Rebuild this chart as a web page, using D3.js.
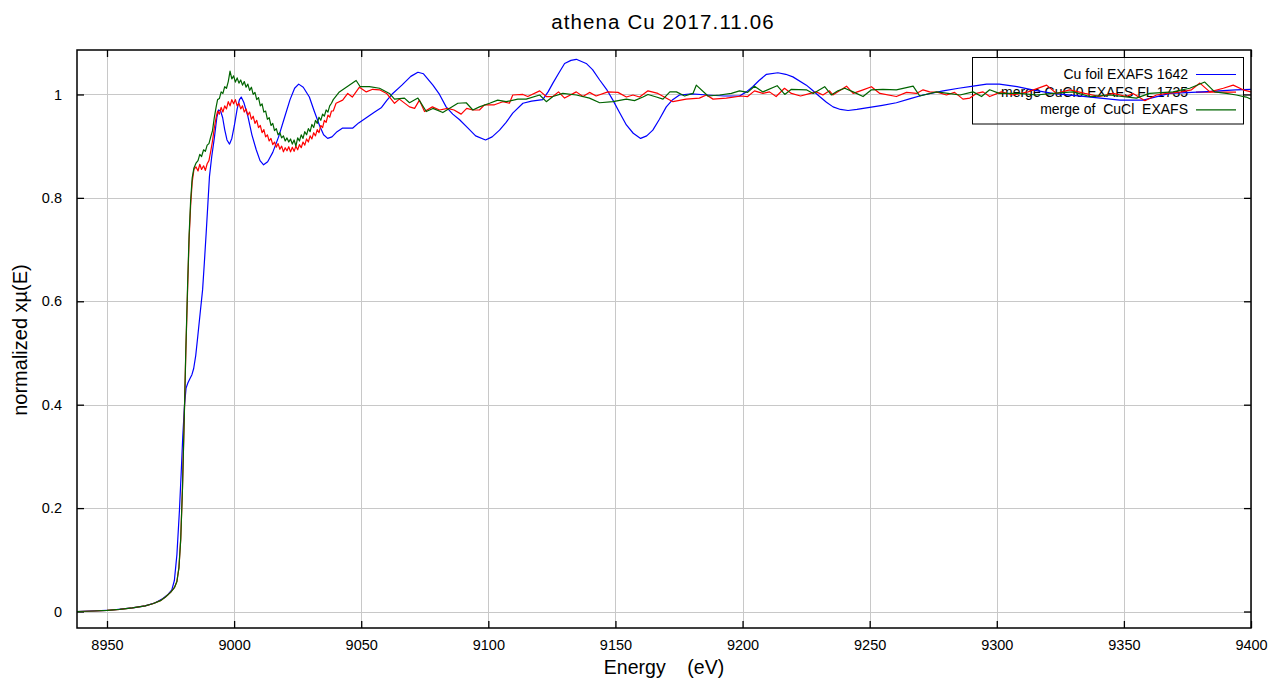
<!DOCTYPE html>
<html>
<head>
<meta charset="utf-8">
<script src="https://cdn.jsdelivr.net/npm/d3@7"></script>
<style>
  body { margin: 0; background: #fff; }
  text { font-family: Arial, "Liberation Sans", sans-serif; }
</style>
</head>
<body>
<script>
// 画布尺寸
const width = 1271;
const height = 679;
const margin = { top: 50, right: 20, bottom: 51, left: 77 };

const titleText = 'athena Cu 2017.11.06';
const xLabel = 'Energy    (eV)';
const yLabel = 'normalized xµ(E)';
const seriesNames = ['Cu foil EXAFS 1642', 'merge CuCl0 EXAFS FL 1735', 'merge of  CuCl  EXAFS'];
const seriesColors = ['#0000ff', '#ff0000', '#006400'];
const xTicks = [8950, 9000, 9050, 9100, 9150, 9200, 9250, 9300, 9350, 9400];
const yTicks = [0, 0.2, 0.4, 0.6, 0.8, 1];

// Cu foil EXAFS 1642  [能量, 归一化吸收]
const cuFoil = [
  [8938, 0.000], [8950, 0.002], [8960, 0.007], [8965, 0.011], [8969, 0.017], [8972, 0.025],
  [8974, 0.033], [8975.5, 0.042], [8976.5, 0.060], [8977.5, 0.110], [8978.5, 0.196], [8979.2, 0.270],
  [8979.8, 0.338], [8980.5, 0.400], [8981.1, 0.432], [8981.8, 0.442], [8982.6, 0.450], [8983.4, 0.458],
  [8984.1, 0.470], [8984.9, 0.495], [8985.7, 0.532], [8986.6, 0.575], [8987.6, 0.622], [8988.3, 0.675],
  [8989, 0.731], [8989.7, 0.790], [8990.3, 0.841], [8991.2, 0.880], [8992.2, 0.915], [8993.2, 0.955],
  [8993.9, 0.970], [8994.7, 0.968], [8995.5, 0.955], [8996.3, 0.932], [8997.2, 0.912], [8998.2, 0.904],
  [8999.1, 0.915], [9000.1, 0.940], [9001.2, 0.972], [9002.1, 0.990], [9002.8, 0.995], [9003.8, 0.985],
  [9005.4, 0.958], [9007, 0.922], [9008.7, 0.893], [9010.2, 0.872], [9011.6, 0.864], [9013.2, 0.870],
  [9015.2, 0.888], [9017.5, 0.918], [9019.8, 0.955], [9022, 0.990], [9023.8, 1.012], [9025.4, 1.020],
  [9027.2, 1.014], [9029.6, 0.995], [9031.5, 0.968], [9033.6, 0.940], [9035.2, 0.922], [9036.8, 0.915],
  [9038.5, 0.918], [9040.5, 0.928], [9042.7, 0.935], [9046.7, 0.935], [9049, 0.945], [9052, 0.955],
  [9055, 0.965], [9058, 0.975], [9060, 0.988], [9062.4, 1.002], [9066, 1.018], [9069.5, 1.035],
  [9072.3, 1.043], [9074.5, 1.040], [9078.2, 1.018], [9080.8, 1.000], [9083.4, 0.976], [9086, 0.962],
  [9088.7, 0.951], [9092, 0.935], [9095, 0.920], [9098.9, 0.912], [9101.5, 0.918], [9104.4, 0.931],
  [9107, 0.946], [9109.6, 0.964], [9113.6, 0.983], [9117, 0.987], [9121.4, 0.990], [9123.5, 1.005],
  [9125.4, 1.022], [9127.8, 1.042], [9130, 1.060], [9132.5, 1.066], [9134.6, 1.068], [9138.5, 1.060],
  [9141, 1.048], [9143.8, 1.028], [9146.5, 1.010], [9149, 0.989], [9151.5, 0.966], [9154.3, 0.941],
  [9157, 0.925], [9159.9, 0.915], [9162.3, 0.920], [9164.7, 0.931], [9167.3, 0.952], [9170, 0.976],
  [9172.5, 0.990], [9175.2, 0.999], [9180, 1.001], [9186, 0.999], [9193, 0.997], [9198.8, 0.997],
  [9201.5, 1.005], [9204, 1.015], [9206.5, 1.027], [9209.4, 1.039], [9213.9, 1.042], [9217, 1.039],
  [9219.8, 1.034], [9225.1, 1.018], [9227.5, 1.008], [9230.3, 0.996], [9233, 0.985], [9235.6, 0.976],
  [9238.5, 0.971], [9241.5, 0.969], [9245, 0.971], [9250, 0.975], [9255, 0.979], [9260.5, 0.984],
  [9266, 0.992], [9271, 0.999], [9278.9, 1.007], [9285, 1.012], [9290.7, 1.016], [9296, 1.020],
  [9301, 1.020], [9308, 1.015], [9315, 1.008], [9322, 1.002], [9335, 0.996], [9348.4, 0.989],
  [9357.6, 0.989], [9368, 1.002], [9381, 1.005], [9394, 1.009], [9400, 1.010]
];

// merge CuCl0 EXAFS FL 1735
const cuclFL = [
  [8938, 0.000], [8945, 0.001], [8950, 0.002], [8955, 0.004], [8960, 0.007], [8965, 0.011],
  [8968, 0.015], [8971, 0.021], [8973, 0.028], [8975, 0.037], [8976.5, 0.046], [8977.5, 0.058],
  [8978.3, 0.085], [8979, 0.140], [8979.7, 0.240], [8980.4, 0.377], [8981, 0.500], [8981.7, 0.622],
  [8982.3, 0.720], [8982.9, 0.785], [8983.5, 0.830], [8984.2, 0.855], [8985, 0.860], [8985.8, 0.852],
  [8986.5, 0.865], [8987.2, 0.855], [8988, 0.862], [8988.7, 0.853], [8989.4, 0.866], [8990.1, 0.872],
  [8990.8, 0.890], [8991.5, 0.910], [8992.2, 0.935], [8992.9, 0.955], [8993.5, 0.968], [8994.2, 0.962],
  [8994.9, 0.975], [8995.6, 0.966], [8996.3, 0.978], [8997, 0.972], [8997.7, 0.986], [8998.4, 0.978],
  [8999.1, 0.990], [8999.8, 0.982], [9000.5, 0.990], [9001.2, 0.978], [9001.9, 0.983], [9002.6, 0.972],
  [9003.3, 0.978], [9004, 0.966], [9004.7, 0.972], [9005.4, 0.960], [9006.1, 0.966], [9006.8, 0.952],
  [9007.5, 0.958], [9008.2, 0.944], [9008.9, 0.950], [9009.6, 0.936], [9010.3, 0.940], [9011, 0.926],
  [9011.7, 0.932], [9012.4, 0.918], [9013.1, 0.922], [9013.8, 0.910], [9014.5, 0.915], [9015.2, 0.903],
  [9015.9, 0.908], [9016.6, 0.898], [9017.3, 0.905], [9018, 0.894], [9018.7, 0.900], [9019.4, 0.889],
  [9020.1, 0.897], [9020.8, 0.891], [9021.5, 0.899], [9022.2, 0.889], [9022.9, 0.898], [9023.6, 0.890],
  [9024.3, 0.900], [9025, 0.893], [9025.7, 0.903], [9026.4, 0.897], [9027.1, 0.908], [9027.8, 0.902],
  [9028.5, 0.914], [9029.2, 0.908], [9029.9, 0.920], [9030.6, 0.914], [9031.3, 0.926], [9032, 0.920],
  [9032.7, 0.932], [9033.4, 0.926], [9034.1, 0.940], [9034.8, 0.936], [9035.5, 0.950], [9036.2, 0.946],
  [9036.9, 0.960], [9037.6, 0.956], [9038.3, 0.968], [9039, 0.968], [9040.1, 0.983], [9042.7, 0.989],
  [9044.7, 1.002], [9046.5, 0.995], [9049.3, 1.014], [9052, 1.005], [9054.5, 1.010], [9057.2, 1.009],
  [9060, 1.002], [9063.1, 0.983], [9065, 0.991], [9069, 0.976], [9071, 0.973], [9072.9, 0.989],
  [9074.9, 0.967], [9078, 0.976], [9080.8, 0.970], [9084, 0.973], [9086.5, 0.970], [9089.3, 0.962],
  [9091.5, 0.973], [9093.9, 0.970], [9096.5, 0.970], [9098.5, 0.980], [9102.4, 0.980], [9105.7, 0.986],
  [9108.3, 0.983], [9109.6, 0.999], [9113.6, 1.000], [9115.5, 0.996], [9120.2, 1.007], [9122.8, 0.996],
  [9125.4, 0.996], [9127.6, 1.005], [9130, 0.993], [9134.6, 1.005], [9137.2, 0.996], [9139.8, 1.004],
  [9142.4, 0.997], [9147, 1.005], [9151, 1.004], [9154.3, 0.995], [9156.9, 0.999], [9159.5, 0.995],
  [9162.8, 1.007], [9166.7, 1.002], [9172.6, 0.986], [9177.8, 0.991], [9183, 0.993], [9185.8, 0.999],
  [9188.4, 0.991], [9193.6, 0.993], [9199.5, 0.997], [9202, 0.996], [9204.7, 1.007], [9208, 1.002],
  [9210.6, 1.005], [9213.2, 0.996], [9216.5, 1.012], [9219.2, 1.002], [9222.8, 0.997], [9226.7, 1.002],
  [9229, 1.005], [9231.6, 0.999], [9234.2, 1.007], [9235.5, 0.999], [9240.9, 1.016], [9243.5, 1.002],
  [9247.4, 1.009], [9250.7, 1.015], [9254, 1.002], [9260.5, 0.996], [9264.5, 1.004], [9268.4, 1.002],
  [9271, 1.009], [9273.6, 1.005], [9276.9, 1.004], [9280.2, 0.999], [9283.4, 1.004], [9286.7, 0.991],
  [9289.4, 0.993], [9292, 1.002], [9294.6, 1.005], [9297.2, 0.996], [9301.8, 1.005], [9306.4, 0.999],
  [9312.3, 1.005], [9319.6, 1.018], [9323.5, 1.002], [9328.7, 1.009], [9334.6, 1.002], [9340.5, 0.996],
  [9345.8, 1.002], [9351, 0.996], [9353.6, 1.002], [9358.3, 0.988], [9362.8, 0.999], [9366.8, 1.002],
  [9372.7, 1.005], [9376.6, 1.009], [9379.9, 1.022], [9383.8, 1.005], [9389.1, 1.012], [9393, 1.018],
  [9396.9, 1.009], [9400, 1.005]
];

// merge of CuCl EXAFS
const cuclMerge = [
  [8938, 0.000], [8945, 0.001], [8950, 0.002], [8955, 0.004], [8960, 0.007], [8965, 0.011],
  [8968, 0.015], [8971, 0.021], [8973, 0.028], [8975, 0.037], [8976.5, 0.046], [8977.5, 0.058],
  [8978.3, 0.085], [8979, 0.140], [8979.7, 0.240], [8980.4, 0.377], [8981, 0.505], [8981.7, 0.630],
  [8982.3, 0.728], [8982.9, 0.795], [8983.5, 0.838], [8984.2, 0.858], [8985, 0.867], [8985.8, 0.872],
  [8986.5, 0.884], [8987.2, 0.880], [8988, 0.893], [8988.7, 0.890], [8989.4, 0.902], [8990.1, 0.905],
  [8990.8, 0.918], [8991.5, 0.930], [8992.2, 0.955], [8992.9, 0.975], [8993.5, 0.990], [8994.2, 0.992],
  [8994.9, 1.005], [8995.6, 1.002], [8996.3, 1.015], [8997, 1.012], [8997.7, 1.025], [8998.4, 1.045],
  [8999.1, 1.030], [8999.8, 1.036], [9000.5, 1.024], [9001.2, 1.032], [9001.9, 1.022], [9002.6, 1.028],
  [9003.3, 1.018], [9004, 1.025], [9004.7, 1.014], [9005.4, 1.020], [9006.1, 1.008], [9006.8, 1.014],
  [9007.5, 1.000], [9008.2, 1.004], [9008.9, 0.990], [9009.6, 0.994], [9010.3, 0.978], [9011, 0.982],
  [9011.7, 0.966], [9012.4, 0.968], [9013.1, 0.952], [9013.8, 0.955], [9014.5, 0.940], [9015.2, 0.944],
  [9015.9, 0.930], [9016.6, 0.934], [9017.3, 0.922], [9018, 0.926], [9018.7, 0.916], [9019.4, 0.920],
  [9020.1, 0.910], [9020.8, 0.916], [9021.5, 0.908], [9022.2, 0.914], [9022.9, 0.904], [9023.6, 0.912],
  [9024.3, 0.900], [9025, 0.916], [9025.7, 0.910], [9026.4, 0.922], [9027.1, 0.915], [9027.8, 0.928],
  [9028.5, 0.922], [9029.2, 0.934], [9029.9, 0.928], [9030.6, 0.942], [9031.3, 0.936], [9032, 0.950],
  [9032.7, 0.944], [9033.4, 0.956], [9034.1, 0.950], [9034.8, 0.962], [9035.5, 0.958], [9036.2, 0.970],
  [9036.9, 0.966], [9037.6, 0.978], [9038.3, 0.983], [9039, 0.990], [9041.4, 1.005], [9044.7, 1.016],
  [9048, 1.027], [9049.6, 1.015], [9053.2, 1.015], [9057.2, 1.012], [9061.1, 1.002], [9063.1, 0.991],
  [9067, 0.993], [9069, 0.984], [9072.3, 0.993], [9075.6, 0.967], [9078.2, 0.973], [9082.1, 0.965],
  [9084, 0.971], [9088, 0.983], [9091.3, 0.984], [9093.9, 0.970], [9096.5, 0.976], [9100.5, 0.983],
  [9103.7, 0.989], [9107, 0.986], [9111.6, 0.991], [9114.9, 0.991], [9120.2, 0.999], [9122.8, 0.986],
  [9125.4, 0.996], [9129.3, 1.002], [9134.6, 0.999], [9139.8, 0.993], [9143.8, 0.984], [9149, 0.986],
  [9154.3, 0.991], [9157.5, 0.988], [9160.8, 0.995], [9162.8, 1.000], [9166.1, 0.995], [9168.7, 0.991],
  [9171.4, 1.005], [9174, 1.005], [9177.2, 0.997], [9180.5, 1.002], [9181.8, 1.018], [9186.4, 0.997],
  [9191, 0.999], [9195.6, 1.002], [9198.8, 1.007], [9202, 1.004], [9204.7, 1.016], [9208, 1.005],
  [9213.6, 1.017], [9216.6, 1.000], [9219.2, 1.010], [9225.1, 1.009], [9227.8, 1.002], [9232.3, 1.015],
  [9234.9, 0.999], [9237.5, 1.007], [9240.2, 1.012], [9243.5, 1.005], [9247.4, 0.996], [9250.7, 1.009],
  [9255.2, 1.010], [9260.5, 1.009], [9267.1, 1.016], [9269.7, 0.997], [9276.3, 1.005], [9280.8, 1.002],
  [9285.5, 0.999], [9290.7, 1.005], [9294, 0.996], [9297.2, 1.009], [9301, 1.002], [9309, 1.002],
  [9315.6, 0.999], [9322.1, 1.002], [9330, 1.005], [9336.6, 0.996], [9344.4, 0.999], [9354.9, 0.993],
  [9360.1, 1.002], [9369.3, 1.005], [9375.9, 1.012], [9381.8, 1.024], [9385.7, 1.005], [9390.3, 1.002],
  [9394.2, 0.999], [9398.1, 0.995], [9400, 0.991]
];

const seriesData = [cuFoil, cuclFL, cuclMerge];

const svg = d3.select('body').append('svg').attr('width', width).attr('height', height);

const x = d3.scaleLinear().domain([8938.2, 9400]).range([margin.left, width - margin.right]);
const y = d3.scaleLinear().domain([-0.0319, 1.086]).range([height - margin.bottom, margin.top]);

const plotLeft = margin.left, plotRight = width - margin.right;
const plotTop = margin.top, plotBottom = height - margin.bottom;

svg.append('defs').append('clipPath').attr('id', 'plot')
   .append('rect').attr('x', plotLeft).attr('y', plotTop)
   .attr('width', plotRight - plotLeft).attr('height', plotBottom - plotTop);

//网格线
svg.append('g')
   .attr('stroke', '#c8c8c8').attr('stroke-width', 1)
   .selectAll('line').data(xTicks).enter().append('line')
   .attr('x1', function(d){ return Math.round(x(d)) + 0.5; })
   .attr('x2', function(d){ return Math.round(x(d)) + 0.5; })
   .attr('y1', plotTop).attr('y2', plotBottom);
svg.append('g')
   .attr('stroke', '#c8c8c8').attr('stroke-width', 1)
   .selectAll('line').data(yTicks).enter().append('line')
   .attr('y1', function(d){ return Math.round(y(d)) + 0.5; })
   .attr('y2', function(d){ return Math.round(y(d)) + 0.5; })
   .attr('x1', plotLeft).attr('x2', plotRight);

//坐标轴 (刻度朝内)
const tickLen = 7;
svg.append('g').attr('transform', 'translate(0,' + plotBottom + ')')
   .call(d3.axisBottom(x).tickValues(xTicks).tickSizeInner(-tickLen).tickSizeOuter(0).tickPadding(12).tickFormat(d3.format('d')));
svg.append('g').attr('transform', 'translate(0,' + plotTop + ')')
   .call(d3.axisTop(x).tickValues(xTicks).tickSizeInner(-tickLen).tickSizeOuter(0).tickFormat(''));
svg.append('g').attr('transform', 'translate(' + plotLeft + ',0)')
   .call(d3.axisLeft(y).tickValues(yTicks).tickSizeInner(-tickLen).tickSizeOuter(0).tickPadding(15)
         .tickFormat(function(d){ return d === 0 || d === 1 ? String(d) : d.toFixed(1); }));
svg.append('g').attr('transform', 'translate(' + plotRight + ',0)')
   .call(d3.axisRight(y).tickValues(yTicks).tickSizeInner(-tickLen).tickSizeOuter(0).tickFormat(''));
svg.selectAll('.domain').remove();
svg.selectAll('.tick line').attr('stroke', '#000').attr('stroke-width', 1.3);
svg.selectAll('.tick text').attr('font-size', '14.5px').attr('fill', '#000')
   .attr('font-family', 'Arial, "Liberation Sans", sans-serif');

//图例
const legend = svg.append('g');
legend.append('rect')
   .attr('x', 972.5).attr('y', 57.5).attr('width', 271).attr('height', 66.5)
   .attr('fill', 'none').attr('stroke', '#000').attr('stroke-width', 1);
legend.selectAll('text').data(seriesNames).enter().append('text')
   .attr('x', 1188).attr('y', function(d, i){ return 74 + i * 17.7 + 5; })
   .attr('text-anchor', 'end').attr('font-size', '14px').attr('fill', '#000')
   .style('white-space', 'pre')
   .text(function(d){ return d; });
legend.selectAll('line').data(seriesColors).enter().append('line')
   .attr('x1', 1196).attr('x2', 1236)
   .attr('y1', function(d, i){ return 74.5 + i * 17.7; })
   .attr('y2', function(d, i){ return 74.5 + i * 17.7; })
   .attr('stroke', function(d){ return d; }).attr('stroke-width', 1.2);

//曲线
const line = d3.line()
   .x(function(d){ return x(d[0]); })
   .y(function(d){ return y(d[1]); });
svg.append('g').attr('clip-path', 'url(#plot)')
   .selectAll('path').data(seriesData).enter().append('path')
   .attr('d', line)
   .attr('fill', 'none')
   .attr('stroke', function(d, i){ return seriesColors[i]; })
   .attr('stroke-width', 1.2)
   .attr('stroke-linejoin', 'round');

//边框
svg.append('rect')
   .attr('x', plotLeft).attr('y', plotTop)
   .attr('width', plotRight - plotLeft).attr('height', plotBottom - plotTop)
   .attr('fill', 'none').attr('stroke', '#000').attr('stroke-width', 1.5);

//标题和轴标签
svg.append('text').attr('x', 663).attr('y', 29).attr('text-anchor', 'middle')
   .attr('font-size', '20.5px').attr('letter-spacing', '1.1px').text(titleText);
svg.append('text').attr('x', 664).attr('y', 674).attr('text-anchor', 'middle')
   .attr('font-size', '19.5px').style('white-space', 'pre').text(xLabel);
svg.append('text').attr('transform', 'translate(27,340) rotate(-90)').attr('text-anchor', 'middle')
   .attr('font-size', '20px').text(yLabel);
</script>
</body>
</html>
